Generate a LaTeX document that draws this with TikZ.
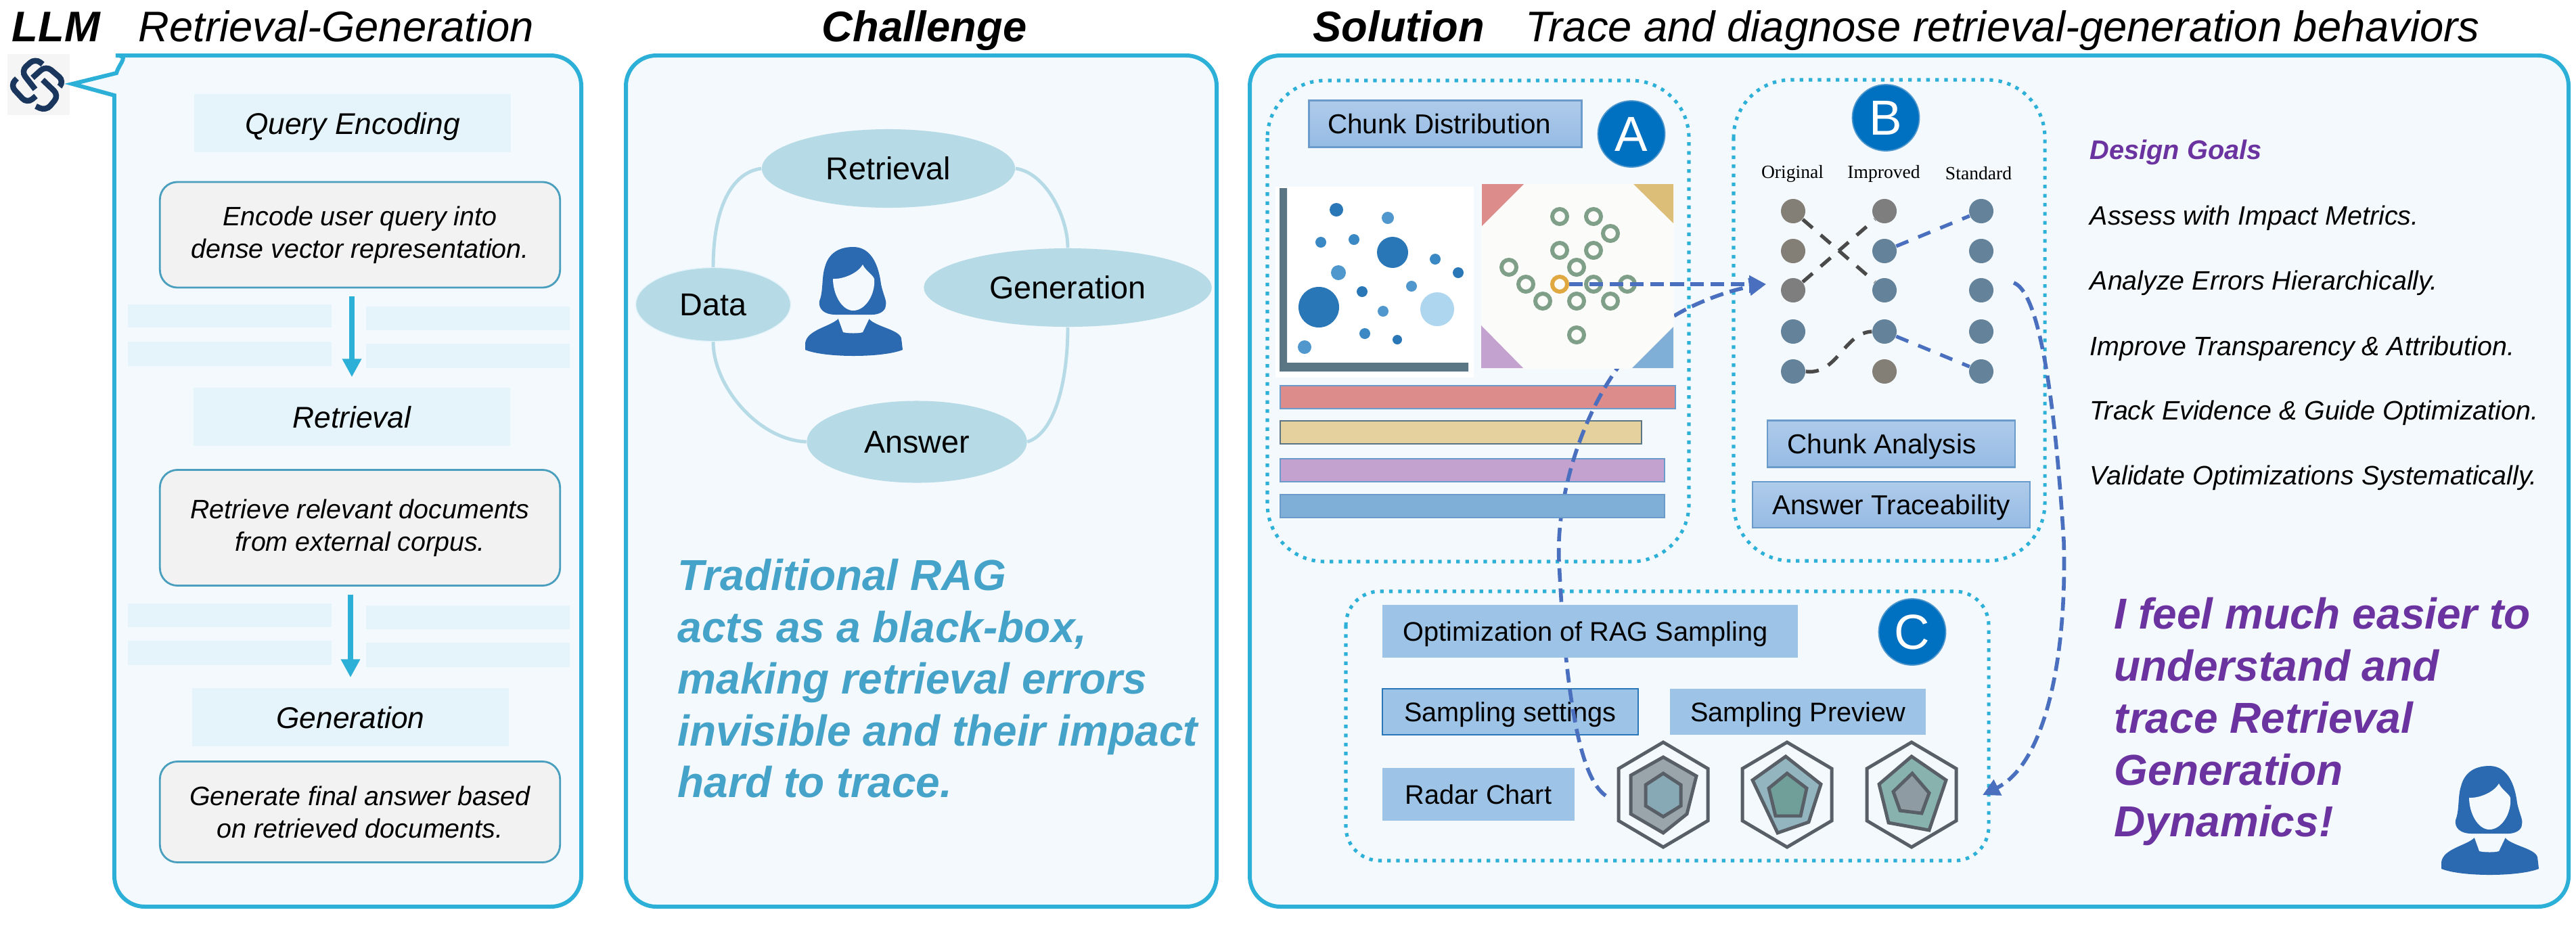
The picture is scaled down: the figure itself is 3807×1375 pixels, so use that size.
\documentclass[tikz,border=0pt]{standalone}
\usepackage{fontspec}
\setmainfont{Liberation Sans}
\newfontfamily\labelserif{Liberation Serif}
\usetikzlibrary{arrows.meta,shapes.geometric}
\definecolor{PanelCyan}{HTML}{2DB0D8}
\definecolor{PanelFill}{HTML}{F3F9FC}
\definecolor{StageFill}{HTML}{E5F4FA}
\definecolor{NoteFill}{HTML}{F2F2F2}
\definecolor{NoteEdge}{HTML}{4A9FBF}
\definecolor{LoopBlue}{HTML}{B6DAE6}
\definecolor{PersonBlue}{HTML}{2B69B0}
\definecolor{ChalBlue}{HTML}{45A2C8}
\definecolor{GoalPurple}{HTML}{6B33A0}
\definecolor{LogoNavy}{HTML}{1B365D}
\definecolor{TagEdge}{HTML}{6A9BCB}
\definecolor{TagTop}{HTML}{AFCBEA}
\definecolor{TagLow}{HTML}{96BBE4}
\definecolor{TagFlat}{HTML}{9DC3E6}
\definecolor{BadgeBlue}{HTML}{0070C0}
\definecolor{AxisSlate}{HTML}{5A7684}
\definecolor{DotDark}{HTML}{2A77B8}
\definecolor{DotMid}{HTML}{3A88C4}
\definecolor{DotSoft}{HTML}{4F97CC}
\definecolor{DotPale}{HTML}{AED6EE}
\definecolor{SheetWarm}{HTML}{FBFBF9}
\definecolor{CornerRed}{HTML}{DD8C8C}
\definecolor{CornerGold}{HTML}{DDBE78}
\definecolor{BarGold}{HTML}{E4D19E}
\definecolor{CornerPlum}{HTML}{C3A2D0}
\definecolor{CornerSky}{HTML}{7FAED6}
\definecolor{RingGreen}{HTML}{7F9F88}
\definecolor{RingHot}{HTML}{E0A840}
\definecolor{ChipBrown}{HTML}{837F76}
\definecolor{ChipGray}{HTML}{7E7E7E}
\definecolor{ChipSlate}{HTML}{64829A}
\definecolor{LinkDark}{HTML}{4A4A4A}
\definecolor{LinkBlue}{HTML}{4A6FBF}
\definecolor{RadarEdge}{HTML}{595F66}
\definecolor{RadarOneA}{HTML}{9AA5AB}
\definecolor{RadarOneB}{HTML}{87A9B5}
\definecolor{RadarTwoA}{HTML}{93B5BF}
\definecolor{RadarTwoB}{HTML}{6F9F98}
\definecolor{RadarThreeA}{HTML}{88B2AE}
\definecolor{RadarThreeB}{HTML}{8E9BA2}
\tikzset{
  panelline/.style={draw=PanelCyan,fill=PanelFill,line width=1.7pt},
  titlebold/.style={anchor=base west,inner sep=0pt,font=\bfseries\itshape\fontsize{18}{21}\selectfont},
  titleplain/.style={anchor=base west,inner sep=0pt,font=\itshape\fontsize{18}{21}\selectfont},
  stagebox/.style={fill=StageFill,inner sep=0pt,minimum width=4.68cm,minimum height=.86cm,text depth=0pt,
    font=\itshape\fontsize{12.6}{15}\selectfont},
  notebox/.style={draw=NoteEdge,fill=NoteFill,line width=.8pt,rounded corners=.26cm,inner sep=0pt,
    minimum width=5.91cm,align=center,font=\itshape\fontsize{11.2}{13.6}\selectfont},
  stagearrow/.style={-{Triangle[length=.27cm,width=.27cm]},PanelCyan,line width=2.5pt,
    shorten <=.12cm,shorten >=.15cm},
  loopnode/.style={ellipse,fill=LoopBlue,inner sep=0pt,text depth=0pt,font=\fontsize{13.3}{16}\selectfont},
  loopline/.style={LoopBlue,line width=1.4pt},
  bigtext/.style={anchor=base west,inner sep=0pt,font=\bfseries\itshape\fontsize{18.2}{22}\selectfont},
  goaltext/.style={anchor=base west,inner sep=0pt,font=\itshape\fontsize{11.2}{13}\selectfont},
  region/.style={draw=PanelCyan,line width=1.45pt,dash pattern=on 1.5pt off 2.3pt},
  tagbox/.style={draw=TagEdge,top color=TagTop,bottom color=TagLow,line width=.7pt,inner sep=0pt,text depth=0pt,
    font=\fontsize{11.5}{14}\selectfont},
  flatbox/.style={fill=TagFlat,inner sep=0pt,text depth=0pt,font=\fontsize{11.3}{14}\selectfont},
  badge/.style={ellipse,draw=DotSoft,fill=BadgeBlue,text=white,line width=.5pt,inner sep=0pt,
    minimum width=.99cm,minimum height=.98cm,font=\fontsize{20.7}{24}\selectfont},
  ringdot/.style={circle,draw=RingGreen,fill=SheetWarm,line width=1.7pt,inner sep=0pt,minimum size=.22cm},
  chip/.style={circle,inner sep=0pt,minimum size=.36cm},
  chiplabel/.style={anchor=base,inner sep=0pt,font=\labelserif\fontsize{7.85}{9}\selectfont},
  chiplink/.style={line width=1.5pt,dash pattern=on 5.5pt off 4.5pt},
  tracelink/.style={LinkBlue,line width=1.6pt,dash pattern=on 5.7pt off 2.8pt,
    -{Triangle[length=.25cm,width=.25cm]}},
  radarline/.style={draw=RadarEdge,line width=1.4pt,line join=miter},
  person/.pic={
    \fill[PersonBlue] (72,0) .. controls (100,0) and (110,30) .. (113,55)
      .. controls (116,70) and (122,80) .. (120,86) .. controls (120,95) and (110,100) .. (100,100)
      -- (45,100) .. controls (30,100) and (20,92) .. (22,80)
      .. controls (28,65) and (25,45) .. (30,30) .. controls (35,10) and (50,0) .. (72,0) -- cycle;
    \fill[PersonBlue] (50,106) .. controls (38,118) and (4,122) .. (1,142) -- (1,152)
      .. controls (30,164) and (115,164) .. (145,152) -- (143,135)
      .. controls (140,122) and (105,118) .. (95,106) -- cycle;
    \fill[PanelFill] (48,101) -- (57,126) .. controls (65,128) and (80,128) .. (86,126) -- (98,101)
      .. controls (85,106) and (60,106) .. (48,101) -- cycle;
    \fill[PanelFill] (42,47) .. controls (55,48) and (78,40) .. (86,26)
      .. controls (90,35) and (100,40) .. (103,47) .. controls (105,70) and (90,94) .. (72,94)
      .. controls (55,94) and (42,70) .. (42,47) -- cycle;
  }
}
\begin{document}
\begin{tikzpicture}[x=.01cm,y=-.01cm]
\path[use as bounding box] (0,0) rectangle (3807,1375);

\node[titlebold] (llm) at (17,61) {LLM};
\node[titleplain] (lefttitle) at (204,61) {Retrieval-Generation};
\node[titlebold] (chaltitle) at (1214,61) {Challenge};
\node[titlebold] (soltitle) at (1940,61) {Solution};
\node[titleplain] (soltext) at (2254,61) {Trace and diagnose retrieval-generation behaviors};

\fill[black!4] (11,80) rectangle (103,170);
\draw[LogoNavy,line width=2.4pt,rounded corners=.1cm]
  (63,95) -- (52,86) -- (31,105) -- (52,132)
  (48,115) -- (68,97) -- (95,120) -- (88,128)
  (25,116) -- (15,126) -- (40,153) -- (53,142)
  (63,118) -- (87,141) -- (68,164) -- (53,157);

\draw[panelline] (169,141) [rounded corners=.45cm] -- (169,1340) -- (859,1340) -- (859,82)
  -- (216,82) [sharp corners] .. controls (192,82) and (177,92) .. (172,108) -- (107,124) -- cycle;
\draw[panelline,rounded corners=.45cm] (925,82) rectangle (1798,1340);
\draw[panelline,rounded corners=.45cm] (1847,82) rectangle (3796,1340);

\foreach \y/\yy in {450/484,505/541,892/927,947/983}
  \fill[StageFill] (189,\y) rectangle (490,\yy);
\foreach \y/\yy in {453/488,508/544,895/930,950/986}
  \fill[StageFill] (541,\y) rectangle (842,\yy);

\node[stagebox] (stage1) at (521,182) {Query Encoding};
\node[notebox,minimum height=1.56cm] (note1) at (532,347)
      {Encode user query into\\dense vector representation.};
\node[stagebox] (stage2) at (520,616) {Retrieval};
\node[notebox,minimum height=1.71cm] (note2) at (532,780)
      {Retrieve relevant documents\\from external corpus.};
\node[stagebox] (stage3) at (518,1060) {Generation};
\node[notebox,minimum height=1.49cm] (note3) at (532,1200)
      {Generate final answer based\\on retrieved documents.};
\draw[stagearrow] (stage2 |- note1.south) -- (stage2.north);
\draw[stagearrow] (stage3 |- note2.south) -- (stage3.north);

\node[loopnode,minimum width=3.74cm,minimum height=1.16cm] (retr) at (1313,249) {Retrieval};
\node[loopnode,draw=StageFill,minimum width=2.29cm,minimum height=1.09cm] (data) at (1054,450) {Data};
\node[loopnode,minimum width=4.25cm,minimum height=1.16cm] (gen) at (1578,425) {Generation};
\node[loopnode,minimum width=3.25cm,minimum height=1.21cm] (ans) at (1355,653) {Answer};
\draw[loopline] (data.north) .. controls (1054,310) and (1080,255) .. (retr.west);
\draw[loopline] (retr.east) .. controls (1545,255) and (1578,320) .. (gen.north);
\draw[loopline] (gen.south) .. controls (1578,560) and (1560,640) .. (ans.east);
\draw[loopline] (data.south) .. controls (1054,570) and (1120,650) .. (ans.west);
\pic (chaluser) at (1189,365) {person};

\foreach \y/\lab in {872/Traditional RAG,949/{acts as a black-box,},1025/making retrieval errors,
                     1102/invisible and their impact,1178/hard to trace.}
  \node[bigtext,text=ChalBlue] (chal\y) at (1001,\y) {\lab};

\draw[region,rounded corners=.85cm] (1873,119) rectangle (2496,830);
\draw[region,rounded corners=.85cm] (2562,118) rectangle (3022,829);
\draw[region,rounded corners=.5cm] (1989,874) rectangle (2939,1272);

\node[flatbox,draw=DotDark,line width=.7pt,minimum width=3.78cm,minimum height=.68cm] (settings) at (2232,1052)
      {Sampling settings};
\foreach \y/\yy/\w/\c/\e in {570/604/2476/CornerRed/TagEdge,622/656/2426/BarGold/AxisSlate,
                             678/712/2460/CornerPlum/TagEdge}
  \draw[fill=\c,draw=\e,line width=.7pt] (1892,\y) rectangle (\w,\yy);

\coordinate (btip) at (2610,420);
\coordinate (radarin) at (2373,1176);
\coordinate (bout) at (2976,418);
\coordinate (cin) at (2930,1175);
\draw[tracelink] (radarin) .. controls (2335,1150) and (2314,1030) .. (2304,830)
  .. controls (2298,700) and (2370,520) .. (2474,467)
  .. controls (2510,445) and (2560,428) .. (btip);

\draw[fill=CornerSky,draw=TagEdge,line width=.7pt] (1892,731) rectangle (2460,765);

\fill[white] (1885,276) rectangle (2178,558);
\fill[AxisSlate] (1891,278) -- (1902,278) -- (1902,536) -- (2170,536) -- (2170,549) -- (1891,549) -- cycle;
\foreach \cx/\cy/\cr/\c in {1975/310/10/DotDark,2051/322/9/DotSoft,1952/358/8/DotMid,2001/354/8/DotMid,
    2058/373/23/DotDark,2121/383/8/DotMid,2155/403/8/DotDark,1978/403/11/DotSoft,2086/423/8/DotSoft,
    2013/431/8/DotDark,1949/454/30/DotDark,2124/457/25/DotPale,2044/460/8/DotSoft,2017/493/8/DotMid,
    2065/502/7/DotDark,1928/513/10/DotSoft}
  \fill[\c] (\cx,\cy) circle (\cr);

\fill[SheetWarm] (2189,272) rectangle (2474,545);
\fill[CornerRed] (2190,272) -- (2252,272) -- (2190,334) -- cycle;
\fill[CornerGold] (2414,272) -- (2473,272) -- (2473,330) -- cycle;
\fill[CornerPlum] (2189,481) -- (2189,544) -- (2251,544) -- cycle;
\fill[CornerSky] (2473,483) -- (2473,544) -- (2412,544) -- cycle;
\foreach \cx/\cy in {2305/320,2355/320,2380/345,2305/370,2355/370,2330/395,2230/395,2255/420,
                     2355/420,2405/420,2280/445,2330/445,2380/445,2330/495}
  \node[ringdot] (ring\cx\cy) at (\cx,\cy) {};
\node[ringdot,draw=RingHot] (hot) at (2305,420) {};
\draw[tracelink] (hot.east) -- (btip);

\node[tagbox,minimum width=4.03cm,minimum height=.69cm] (chunkdist) at (2136,183) {\hspace*{-5pt}Chunk Distribution};
\node[badge] (bdga) at (2411,198) {A};
\node[badge] (bdgb) at (2787,174) {B};
\node[badge] (bdgc) at (2826,934) {C};

\node[chiplabel] (lborig) at (2649,263) {Original};
\node[chiplabel] (lbimpr) at (2784,263) {Improved};
\node[chiplabel] (lbstan) at (2924,265) {Standard};
\foreach \n/\y/\c in {1/312/ChipBrown,2/371/ChipBrown,3/429/ChipGray,4/490/ChipSlate,5/549/ChipSlate}
  \node[chip,fill=\c] (o\n) at (2650,\y) {};
\foreach \n/\y/\c in {1/312/ChipGray,2/371/ChipSlate,3/429/ChipSlate,4/490/ChipSlate,5/549/ChipBrown}
  \node[chip,fill=\c] (i\n) at (2785,\y) {};
\foreach \n/\y in {1/312,2/371,3/429,4/490,5/549}
  \node[chip,fill=ChipSlate] (s\n) at (2928,\y) {};
\draw[chiplink,LinkDark] (o1) -- (i3);
\draw[chiplink,LinkDark] (o3) -- (i1);
\draw[chiplink,LinkDark] (o5.east) .. controls (2715,555) and (2725,492) .. (i4.west);
\draw[chiplink,LinkBlue] (i2) -- (s1);
\draw[chiplink,LinkBlue] (i4) -- (s5);
\draw[tracelink] (bout) .. controls (3010,430) and (3035,560) .. (3050,800)
  .. controls (3055,980) and (3020,1130) .. (cin);

\node[tagbox,minimum width=3.66cm,minimum height=.69cm] (chunkana) at (2795,656) {\hspace*{-8pt}Chunk Analysis};
\node[tagbox,minimum width=4.10cm,minimum height=.68cm] (answertr) at (2795,746) {Answer Traceability};

\node[flatbox,minimum width=6.14cm,minimum height=.77cm] (optim) at (2350,933) {\hspace*{-4pt}Optimization of RAG Sampling};
\node[flatbox,minimum width=3.78cm,minimum height=.68cm] (preview) at (2657,1052) {Sampling Preview};
\node[flatbox,minimum width=2.84cm,minimum height=.78cm] (radar) at (2185,1174) {Radar Chart};

\foreach \cx in {2458,2641,2825}
  \draw[radarline] (\cx,1097) -- (\cx+66,1136) -- (\cx+66,1213) -- (\cx,1252) -- (\cx-66,1213) -- (\cx-66,1136) -- cycle;
\draw[radarline,fill=RadarOneA] (2458,1119) -- (2507,1147) -- (2493,1203) -- (2458,1231) -- (2410,1203) -- (2410,1146) -- cycle;
\draw[radarline,fill=RadarOneB] (2458,1143) -- (2484,1160) -- (2484,1191) -- (2458,1207) -- (2432,1191) -- (2432,1160) -- cycle;
\draw[radarline,fill=RadarTwoA] (2639,1118) -- (2691,1159) -- (2673,1215) -- (2627,1231) -- (2590,1153) -- cycle;
\draw[radarline,fill=RadarTwoB] (2641,1143) -- (2670,1165) -- (2661,1206) -- (2624,1206) -- (2614,1165) -- cycle;
\draw[radarline,fill=RadarThreeA] (2825,1118) -- (2876,1153) -- (2851,1227) -- (2791,1216) -- (2777,1159) -- cycle;
\draw[radarline,fill=RadarThreeB] (2826,1143) -- (2851,1172) -- (2840,1202) -- (2808,1198) -- (2798,1170) -- cycle;

\node[goaltext,text=GoalPurple,font=\bfseries\itshape\fontsize{11.3}{13}\selectfont] (goals) at (3088,235) {Design Goals};
\foreach \y/\lab in {332/Assess with Impact Metrics.,428/Analyze Errors Hierarchically.,
                     525/Improve Transparency \& Attribution.,620/Track Evidence \& Guide Optimization.,
                     716/Validate Optimizations Systematically.}
  \node[goaltext] (goal\y) at (3088,\y) {\lab};
\foreach \y/\lab in {929/I feel much easier to,1006/understand and,1083/trace Retrieval,
                     1160/Generation,1236/Dynamics!}
  \node[bigtext,text=GoalPurple] (quote\y) at (3124,\y) {\lab};
\pic (soluser) at (3607,1132) {person};
\end{tikzpicture}
\end{document}
